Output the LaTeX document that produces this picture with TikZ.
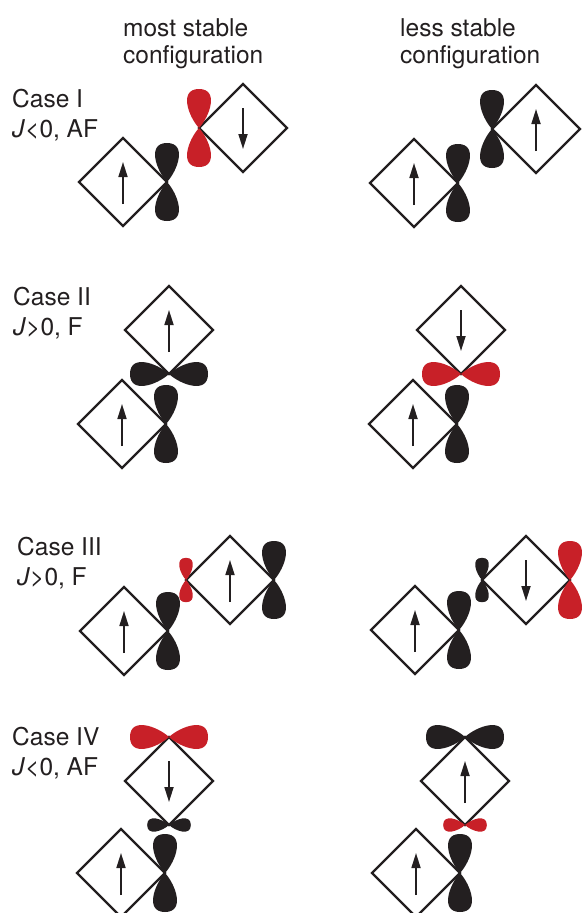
\documentclass[tikz,border=0pt]{standalone}
\usepackage{fontspec}
\setmainfont{TeX Gyre Heros}
\usepackage{tikz}
\definecolor{orbblack}{RGB}{35, 31, 32}
\definecolor{orbred}{RGB}{200, 32, 40}
\usetikzlibrary{shapes.geometric, arrows.meta}

\begin{document}
\begin{tikzpicture}[
    x=1pt, y=-1pt,
    site/.style={diamond, draw=orbblack, line width=2.4pt, minimum size=88pt, inner sep=0pt, outer sep=0pt},
    spin/.style={-{Triangle[length=15pt, width=9pt]}, line width=1.7pt, draw=orbblack},
    heading/.style={anchor=base west, align=left, inner sep=0pt, text=orbblack, font=\fontsize{24.5}{26.5}\selectfont},
    casetext/.style={anchor=base west, align=left, inner sep=0pt, text=orbblack, font=\fontsize{24.5}{30}\selectfont},
    porb/.pic={
        \path[pic actions] (0,0) .. controls (-10.8,11.7) and (-20.4,39) .. (0,39)
            .. controls (20.4,39) and (10.8,11.7) .. (0,0)
            .. controls (-10.8,-11.7) and (-20.4,-39) .. (0,-39)
            .. controls (20.4,-39) and (10.8,-11.7) .. (0,0) -- cycle;
    }
]
    \useasboundingbox (0,0) rectangle (585,913);

    \node[heading] (most) at (123,63) {most stable\\configuration};
    \node[heading] (less) at (400,63) {less stable\\configuration};

    \node[casetext] (caseI) at (12,137) {Case I\\\textit{J}<0, AF};
    \node[casetext] (caseII) at (13,335) {Case II\\\textit{J}>0, F};
    \node[casetext] (caseIII) at (17,585) {Case III\\\textit{J}>0, F};
    \node[casetext] (caseIV) at (12,775) {Case IV\\\textit{J}<0, AF};

    \node[site] (msIa) at (123,182) {};
    \node[site] (msIb) at (243,128) {};
    \node[site] (lsIa) at (414,183) {};
    \node[site] (lsIb) at (536,129) {};

    \node[site] (msIIa) at (122,424) {};
    \node[site] (msIIb) at (169,330) {};
    \node[site] (lsIIa) at (413,424) {};
    \node[site] (lsIIb) at (461,330) {};

    \node[site] (msIIIa) at (124,631) {};
    \node[site] (msIIIb) at (230,580) {};
    \node[site] (lsIIIa) at (415,630) {};
    \node[site] (lsIIIb) at (526,580) {};

    \node[site] (msIVa) at (121,873) {};
    \node[site] (msIVb) at (169,781) {};
    \node[site] (lsIVa) at (416,873) {};
    \node[site] (lsIVb) at (465,781) {};

    \pic[fill=orbblack] at (msIa.east) {porb};
    \pic[fill=orbred] at (msIb.west) {porb};
    \pic[fill=orbblack] at (lsIa.east) {porb};
    \pic[fill=orbblack] at (lsIb.west) {porb};

    \pic[fill=orbblack] at (msIIa.east) {porb};
    \pic[fill=orbblack, rotate=90] at (msIIb.south) {porb};
    \pic[fill=orbblack] at (lsIIa.east) {porb};
    \pic[fill=orbred, rotate=90] at (lsIIb.south) {porb};

    \pic[fill=orbblack] at (msIIIa.east) {porb};
    \pic[fill=orbred, scale=0.57] at (msIIIb.west) {porb};
    \pic[fill=orbblack] at (msIIIb.east) {porb};
    \pic[fill=orbblack] at (lsIIIa.east) {porb};
    \pic[fill=orbblack, scale=0.57] at (lsIIIb.west) {porb};
    \pic[fill=orbred] at (lsIIIb.east) {porb};

    \pic[fill=orbblack] at (msIVa.east) {porb};
    \pic[fill=orbred, rotate=90] at (msIVb.north) {porb};
    \pic[fill=orbblack, rotate=90, scale=0.56] at (msIVb.south) {porb};
    \pic[fill=orbblack] at (lsIVa.east) {porb};
    \pic[fill=orbblack, rotate=90] at (lsIVb.north) {porb};
    \pic[fill=orbred, rotate=90, scale=0.56] at (lsIVb.south) {porb};

    \draw[spin] ([yshift=-22pt]msIa.center) -- ([yshift=20pt]msIa.center);
    \draw[spin] ([yshift=20pt]msIb.center) -- ([yshift=-21pt]msIb.center);
    \draw[spin] ([yshift=-22pt]lsIa.center) -- ([yshift=20pt]lsIa.center);
    \draw[spin] ([yshift=-22pt]lsIb.center) -- ([yshift=20pt]lsIb.center);

    \draw[spin] ([yshift=-22pt]msIIa.center) -- ([yshift=20pt]msIIa.center);
    \draw[spin] ([yshift=-22pt]msIIb.center) -- ([yshift=20pt]msIIb.center);
    \draw[spin] ([yshift=-22pt]lsIIa.center) -- ([yshift=20pt]lsIIa.center);
    \draw[spin] ([yshift=20pt]lsIIb.center) -- ([yshift=-21pt]lsIIb.center);

    \draw[spin] ([yshift=-22pt]msIIIa.center) -- ([yshift=20pt]msIIIa.center);
    \draw[spin] ([yshift=-22pt]msIIIb.center) -- ([yshift=20pt]msIIIb.center);
    \draw[spin] ([yshift=-22pt]lsIIIa.center) -- ([yshift=20pt]lsIIIa.center);
    \draw[spin] ([yshift=20pt]lsIIIb.center) -- ([yshift=-21pt]lsIIIb.center);

    \draw[spin] ([yshift=-22pt]msIVa.center) -- ([yshift=20pt]msIVa.center);
    \draw[spin] ([yshift=20pt]msIVb.center) -- ([yshift=-21pt]msIVb.center);
    \draw[spin] ([yshift=-22pt]lsIVa.center) -- ([yshift=20pt]lsIVa.center);
    \draw[spin] ([yshift=-22pt]lsIVb.center) -- ([yshift=20pt]lsIVb.center);
\end{tikzpicture}
\end{document}
